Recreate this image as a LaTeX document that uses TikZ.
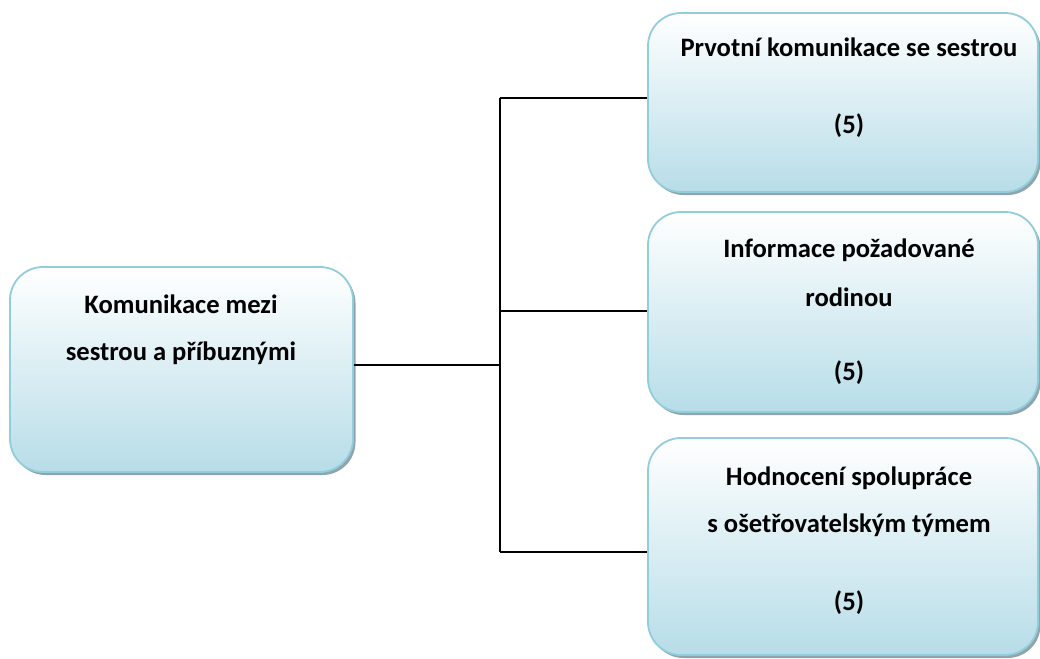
\documentclass[tikz,border=0pt]{standalone}
\usepackage{fontspec}
\setmainfont{Carlito}
\usetikzlibrary{shadows}
\definecolor{boxfill}{HTML}{B7DDE8}
\definecolor{boxline}{HTML}{92CDDC}
\definecolor{boxshadow}{HTML}{8FA4AC}
\begin{document}
\begin{tikzpicture}[x=1pt,y=-1pt,
  topic/.style={draw=boxline, line width=1.8pt, rounded corners=33pt,
    top color=white, bottom color=boxfill,
    drop shadow={shadow xshift=2.5pt, shadow yshift=-3pt, fill=boxshadow, opacity=1}},
  caption/.style={font=\bfseries\fontsize{26.6}{30}\selectfont, anchor=base, inner sep=0pt},
  link/.style={line width=1.6pt, black}]
\useasboundingbox (0,0) rectangle (1040,658);

% boxes
\node[topic, minimum width=343pt, minimum height=205pt] (root) at (181.5,369.5) {};
\node[topic, minimum width=390pt, minimum height=179pt] (b1) at (843,102.5) {};
\node[topic, minimum width=390pt, minimum height=200pt] (b2) at (843,312) {};
\node[topic, minimum width=390pt, minimum height=217pt] (b3) at (843,546.5) {};

% texts
\node[caption] (r1) at (181,313) {Komunikace mezi};
\node[caption] (r2) at (181,360) {sestrou a příbuznými};
\node[caption] (p1) at (849,57) {Prvotní komunikace se sestrou};
\node[caption] (p2) at (849,133) {(5)};
\node[caption] (q1) at (849,257) {Informace požadované};
\node[caption] (q2) at (849,306) {rodinou};
\node[caption] (q3) at (849,380) {(5)};
\node[caption] (s1) at (849,485) {Hodnocení spolupráce};
\node[caption] (s2) at (849,532) {s ošetřovatelským týmem};
\node[caption] (s3) at (849,610) {(5)};

% connectors
\coordinate (j0) at (500,365);
\coordinate (j1) at (500,98);
\coordinate (j2) at (500,311);
\coordinate (j3) at (500,552);
\draw[link] (j0 -| root.east) -- (j0);
\draw[link] (j1) -- (j3);
\draw[link] (j1) -- (j1 -| b1.west);
\draw[link] (j2) -- (j2 -| b2.west);
\draw[link] (j3) -- (j3 -| b3.west);
\end{tikzpicture}
\end{document}
